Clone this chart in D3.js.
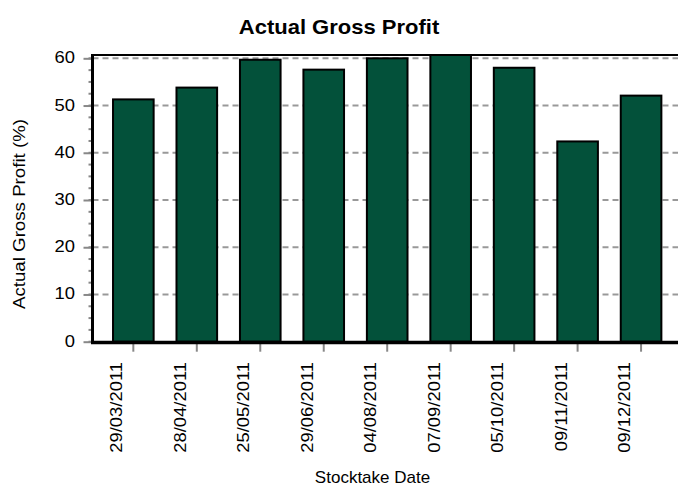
<!DOCTYPE html>
<html>
<head>
<meta charset="utf-8">
<script src="https://cdn.jsdelivr.net/npm/d3@7/dist/d3.min.js"></script>
<style>
  html, body { margin: 0; padding: 0; background: #ffffff; }
  svg { display: block; font-family: "Liberation Sans", Arial, sans-serif; }
</style>
</head>
<body>
<script>
const categories = ["29/03/2011","28/04/2011","25/05/2011","29/06/2011","04/08/2011","07/09/2011","05/10/2011","09/11/2011","09/12/2011"];
const grossProfit = [51.3, 53.8, 59.7, 57.6, 60.0, 61.5, 58.0, 42.4, 52.1];
const yTicks = [0, 10, 20, 30, 40, 50, 60];
const yMinorTicks = d3.range(0, 60.01, 2.5);
const titleText = "Actual Gross Profit";
const xTitleText = "Stocktake Date";
const yTitleText = "Actual Gross Profit (%)";

const W = 678, H = 486;
const plot = { left: 92.5, right: 690, top: 55, bottom: 341.7 };

const svg = d3.select("body").append("svg").attr("width", W).attr("height", H);

const x = d3.scaleBand().domain(categories).range([101.6, 672.8]).paddingInner(0.36).paddingOuter(0.18);
const y = d3.scaleLinear().domain([0, 60.7]).range([plot.bottom, plot.top]);

svg.append("defs").append("clipPath").attr("id", "clip")
  .append("rect").attr("x", plot.left).attr("y", plot.top).attr("width", plot.right - plot.left).attr("height", plot.bottom - plot.top);

// gridlines
svg.append("g").selectAll("line").data(yTicks.filter(d => d > 0)).join("line")
  .attr("x1", plot.left).attr("x2", W).attr("y1", d => y(d)).attr("y2", d => y(d))
  .attr("stroke", "#999999").attr("stroke-width", 2).attr("stroke-dasharray", "6,4");

// bars
svg.append("g").attr("clip-path", "url(#clip)").selectAll("rect").data(grossProfit).join("rect")
  .attr("x", (d, i) => x(categories[i]))
  .attr("width", x.bandwidth())
  .attr("y", d => y(d))
  .attr("height", d => y(0) - y(d))
  .attr("fill", "#03513A").attr("stroke", "#000").attr("stroke-width", 2);

// minor y ticks
svg.append("g").selectAll("line").data(yMinorTicks).join("line")
  .attr("x1", plot.left - 4).attr("x2", plot.left).attr("y1", d => y(d)).attr("y2", d => y(d))
  .attr("stroke", "#888").attr("stroke-width", 2);

// y axis
const yAxis = svg.append("g").attr("transform", `translate(${plot.left},0)`)
  .call(d3.axisLeft(y).tickValues(yTicks).tickSize(9).tickPadding(0));
yAxis.select(".domain").remove();
yAxis.selectAll(".tick line").attr("stroke", "#888").attr("stroke-width", 2);
yAxis.selectAll(".tick text").attr("x", null).attr("dy", null).attr("text-anchor", "end")
  .attr("transform", "translate(-17.5,4.5) scale(1.15,1)")
  .attr("font-size", 16).attr("fill", "#000").attr("font-family", "Liberation Sans, Arial, sans-serif");

// x axis ticks
const xAxis = svg.append("g").attr("transform", `translate(0,${plot.bottom})`)
  .call(d3.axisBottom(x).tickSize(10).tickFormat(""));
xAxis.select(".domain").remove();
xAxis.selectAll(".tick line").attr("stroke", "#888").attr("stroke-width", 2);

// x tick labels (rotated)
svg.append("g").selectAll("text").data(categories).join("text")
  .attr("transform", d => `translate(${x(d) + x.bandwidth() / 2 - 11},362) rotate(-90) scale(1.15,1)`)
  .attr("text-anchor", "end").attr("font-size", 16).attr("fill", "#000")
  .text(d => d);

// frame lines
svg.append("line").attr("x1", plot.left).attr("x2", W).attr("y1", plot.top).attr("y2", plot.top)
  .attr("stroke", "#000").attr("stroke-width", 2);
svg.append("line").attr("x1", plot.left).attr("x2", plot.left).attr("y1", plot.top - 1).attr("y2", plot.bottom + 2)
  .attr("stroke", "#000").attr("stroke-width", 3);
svg.append("line").attr("x1", plot.left - 1.5).attr("x2", W).attr("y1", plot.bottom + 0.8).attr("y2", plot.bottom + 0.8)
  .attr("stroke", "#000").attr("stroke-width", 3.5);

// title
svg.append("text").attr("transform", "translate(339,34) scale(1.1,1)")
  .attr("text-anchor", "middle").attr("font-size", 20).attr("font-weight", "bold").attr("fill", "#000")
  .text(titleText);

// x axis title
svg.append("text").attr("transform", "translate(372.5,483) scale(1.0,1)")
  .attr("text-anchor", "middle").attr("font-size", 17).attr("fill", "#000")
  .text(xTitleText);

// y axis title
svg.append("text").attr("transform", "translate(24.5,214) rotate(-90) scale(1.1,1)")
  .attr("text-anchor", "middle").attr("font-size", 17).attr("fill", "#000")
  .text(yTitleText);
</script>
</body>
</html>
